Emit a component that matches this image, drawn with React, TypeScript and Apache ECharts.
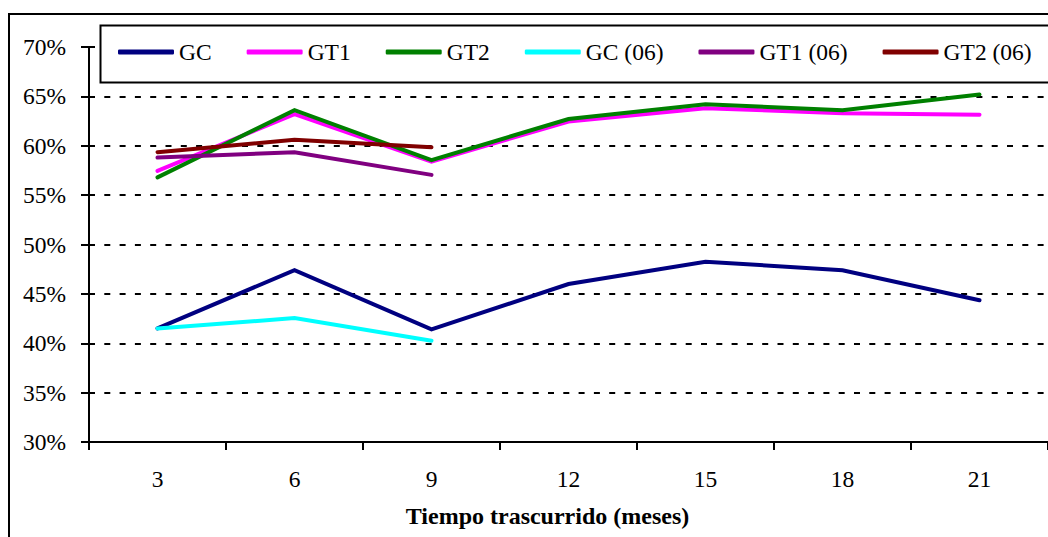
import React, { useEffect, useRef } from "react";
import * as echarts from "echarts";

const categories = ["3", "6", "9", "12", "15", "18", "21"];
const gc = [41.5, 47.4, 41.4, 46.0, 48.25, 47.4, 44.35];
const gt1 = [57.45, 63.2, 58.4, 62.45, 63.8, 63.3, 63.15];
const gt2 = [56.8, 63.6, 58.55, 62.7, 64.2, 63.6, 65.2];
const gc06 = [41.5, 42.55, 40.25, null, null, null, null];
const gt1_06 = [58.8, 59.35, 57.05, null, null, null, null];
const gt2_06 = [59.35, 60.6, 59.85, null, null, null, null];
const seriesNames = ["GC", "GT1", "GT2", "GC (06)", "GT1 (06)", "GT2 (06)"];
const seriesColors = ["#000080", "#FF00FF", "#008000", "#00FFFF", "#800080", "#800000"];
const yTicks = { min: 30, max: 70, step: 5 };
const xTitle = "Tiempo trascurrido (meses)";

const FONT = "Liberation Serif";

export default function App() {
  const ref = useRef<HTMLDivElement>(null);
  useEffect(() => {
    if (!ref.current) return;
    const chart = echarts.init(ref.current, undefined, { renderer: "svg" });
    const data = [gc, gt1, gt2, gc06, gt1_06, gt2_06];
    chart.setOption({
      animation: false,
      textStyle: { fontFamily: FONT },
      grid: { left: 89, width: 959, top: 47, height: 395, containLabel: false },
      graphic: [
        {
          type: "rect",
          z: 0,
          shape: { x: 9, y: 14, width: 1200, height: 700 },
          style: { fill: "none", stroke: "#000", lineWidth: 2 },
        },
        {
          type: "rect",
          z: 3,
          shape: { x: 100.5, y: 25.5, width: 1100, height: 57 },
          style: { fill: "#fff", stroke: "#000", lineWidth: 2 },
        },
      ],
      legend: {
        left: 118,
        top: 40,
        padding: 0,
        itemGap: 35,
        itemWidth: 56,
        itemHeight: 5,
        icon: "roundRect",
        z: 10,
        textStyle: { fontFamily: FONT, fontSize: 23.5, color: "#000", padding: [0, 0, 0, 0] },
        data: seriesNames,
      },
      xAxis: {
        type: "category",
        data: categories,
        boundaryGap: true,
        name: xTitle,
        nameLocation: "middle",
        nameGap: 62,
        nameTextStyle: {
          fontFamily: FONT,
          fontSize: 24,
          fontWeight: "bold",
          color: "#000",
          padding: [0, 42, 0, 0],
        },
        axisLine: { lineStyle: { color: "#000", width: 2 } },
        axisTick: { show: true, length: 8, inside: false, lineStyle: { color: "#000", width: 2 } },
        axisLabel: { fontFamily: FONT, fontSize: 23.5, color: "#000", margin: 25 },
        splitLine: { show: false },
      },
      yAxis: {
        type: "value",
        min: yTicks.min,
        max: yTicks.max,
        interval: yTicks.step,
        axisLine: { show: true, lineStyle: { color: "#000", width: 2 } },
        axisTick: { show: true, length: 8, lineStyle: { color: "#000", width: 2 } },
        axisLabel: { fontFamily: FONT, fontSize: 23.5, color: "#000", margin: 23, formatter: "{value}%" },
        splitLine: { show: true, lineStyle: { color: "#000", width: 2, type: [6, 9.3] } },
      },
      series: seriesNames.map((name, i) => ({
        name,
        type: "line",
        data: data[i],
        symbol: "none",
        connectNulls: false,
        lineStyle: { color: seriesColors[i], width: 4, cap: "round", join: "miter" },
        itemStyle: { color: seriesColors[i] },
        z: 2 + i * 0.01,
      })),
    });
    return () => chart.dispose();
  }, []);
  return (
    <div
      ref={ref}
      style={{ position: "fixed", left: 0, top: 0, width: 1048, height: 537, background: "#fff" }}
    />
  );
}
